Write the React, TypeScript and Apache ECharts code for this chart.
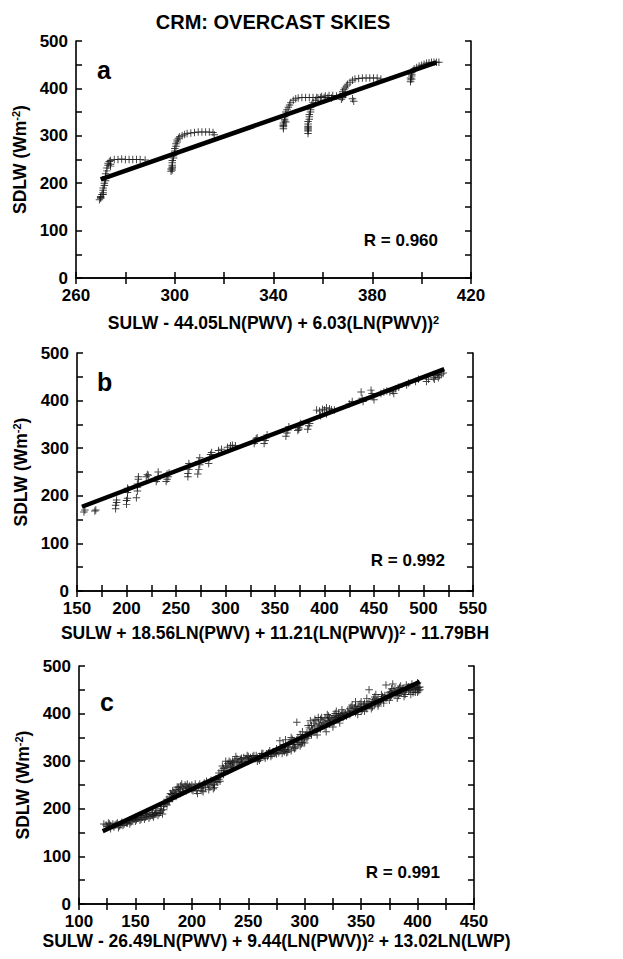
import React, { useEffect, useRef } from "react";
import * as echarts from "echarts";

const TITLE = "CRM: OVERCAST SKIES";
const Y_NAME = "SDLW (Wm{sup|-2})";
const X_NAMES = [
  "SULW - 44.05LN(PWV) + 6.03(LN(PWV)){sup|2}",
  "SULW + 18.56LN(PWV) + 11.21(LN(PWV)){sup|2} - 11.79BH",
  "SULW - 26.49LN(PWV) + 9.44(LN(PWV)){sup|2} + 13.02LN(LWP)",
];
const PANEL_LETTERS = ["a", "b", "c"];
const R_LABELS = ["R = 0.960", "R = 0.992", "R = 0.991"];

// x-axis ranges: [min, max, tick step, label step]
const X_RANGES = [
  [260, 420, 20, 40],
  [150, 550, 25, 50],
  [100, 450, 25, 50],
];
const Y_RANGE = [0, 500, 50, 100];

const fitA = [[270, 208], [406, 455]];
const fitB = [[155, 177], [521, 466]];
const fitC = [[121, 153], [402, 467]];

const scatterA = [
  [269.5,165],[270,168],[270,172],[270.5,176],[271,180],[271,185],[271,190],[271.5,195],[271.5,200],[272,205],
  [272,210],[272,214],[272,220],[272.5,226],[272.5,232],[273,238],[273,242],[273.5,246],[271,176],[270,170],
  [274,248],[275.5,250],[277,250],[278.5,251],[280,250],[281.5,250],[283,250],[284.5,250],[286,250],[288,249],
  [274,240],[274,236],
  [298.5,225],[298.5,230],[299,234],[299,238],[299,243],[299,248],[299.5,253],[299.5,258],[300,263],[300,268],
  [300,273],[300.5,278],[300.5,283],[301,287],[301,291],[301.5,295],[302,298],[299,228],[299,232],
  [303,300],[304,303],[305,305],[306.5,306],[308,307],[309.5,308],[311,308],[312.5,308],[314,308],[315.5,307],[316,302],
  [344,315],[344,319],[344,323],[344,327],[344.5,331],[344.5,335],[344.5,340],[345,345],[345,350],[345.5,355],
  [346,360],[346.5,365],[347,370],[348,375],[344,321],[345,329],
  [349,378],[350,380],[351.5,381],[353,381],[354.5,381],[356,381],[357.5,381],[359,381],[360.5,381],[362,381],[363.5,380],
  [354,305],[354,310],[354,315],[354,320],[354,325],[354,330],[354.5,335],[354.5,340],[354.5,345],[355,350],
  [355,355],[355,360],[355.5,365],[356,370],[357,375],[354,312],[354,318],
  [358,380],[359.5,383],[361,384],[362.5,385],[364,385],[365.5,384],[367,383],[372,378],[372.5,373],
  [367.5,377],[368,381],[368,385],[368,389],[368,393],[368.5,397],[369,401],[369.5,405],[370,409],[371,413],
  [372,417],[368,383],[369,387],
  [373,420],[374.5,421],[376,422],[377.5,422],[379,422],[380.5,422],[382,422],[383.5,420],
  [395.5,414],[395.5,418],[395.5,422],[396,426],[396,430],[396,434],[396.5,438],[397,441],[398,444],[399,447],
  [400,449],[396,420],
  [401,451],[402,453],[403,454],[404,455],[405,455],[406,455],[407,455],
];

const scatterB = [
  [157,166],[158,170],[168,168],[169,170],
  [189,173],[189,180],[190,186],[190,191],
  [200,182],[200,190],[201,195],[201,207],[202,213],[201,216],
  [210,196],[211,210],[211,218],[211,225],[212,235],[212,240],
  [220,240],[221,245],[222,243],
  [230,230],[231,235],[232,240],[232,250],
  [240,230],[241,235],[242,240],[241,246],[243,248],
  [262,240],[262,247],[263,255],[264,262],[263,268],
  [272,246],[273,255],[274,265],[273,272],[274,280],
  [283,268],[284,280],[285,287],[286,291],
  [293,295],[296,298],
  [302,302],[305,305],[307,306],[310,305],
  [329,310],[330,315],[331,320],[332,322],
  [339,310],[340,316],[341,322],[342,328],
  [361,325],[362,332],[363,338],[364,345],
  [373,337],[374,343],[375,348],[376,352],[374,340],
  [383,340],[384,347],[385,352],
  [392,380],[395,378],[398,382],[400,380],[402,385],[405,383],[407,381],[410,380],[402,372],[396,368],
  [425,393],[428,398],
  [437,418],[438,405],[439,398],
  [447,422],[448,415],[449,408],[450,402],
  [457,415],[460,418],[463,420],[466,418],[469,420],[472,425],[475,428],[470,415],
  [483,433],[485,437],
  [492,440],[495,445],
  [503,440],[505,445],
  [510,448],[512,452],[514,455],[516,452],[518,456],[520,458],[511,445],[515,448],
];

const scatterC = [
  [122,168],[124,166],[126,170],[128,165],[130,168],[132,166],[134,170],[136,164],[138,172],[140,168],[135,160],[128,158],
  [142,170],[144,175],[146,172],[148,178],[150,174],[152,180],[154,176],[156,182],[158,178],[160,185],[162,180],
  [164,188],[166,183],[168,190],[170,186],[172,193],[174,189],[165,192],[160,190],[155,186],[150,182],[168,196],[172,200],
  [175,205],[177,212],[178,220],[180,225],[182,230],[184,235],[186,240],[188,244],[190,248],[192,245],[194,250],
  [196,252],[198,248],[200,250],[180,215],[185,228],[190,232],[195,238],[200,240],[183,222],[188,236],[197,243],[178,208],
  [202,245],[204,238],[206,248],[208,242],[210,250],[212,244],[214,252],[216,246],[218,255],[220,250],[222,258],
  [224,262],[205,232],[210,236],[215,240],[220,245],[203,252],[213,258],
  [226,280],[228,285],[230,290],[232,295],[234,298],[236,300],[238,302],[240,305],[242,300],[244,306],[246,308],
  [248,305],[250,310],[252,308],[254,310],[228,272],[232,280],[236,288],[240,292],[245,296],[250,300],[224,275],[230,300],
  [256,305],[258,308],[260,310],[262,312],[264,310],[266,315],[268,318],[270,316],[272,320],[274,318],[276,322],
  [278,325],[260,302],[265,306],[270,310],[275,315],[262,316],[280,328],
  [280,316],[282,320],[284,318],[286,325],[288,322],[290,330],[292,328],[294,335],[296,332],[298,340],[300,338],
  [282,330],[286,336],[290,342],[294,348],[296,356],[298,362],[283,345],[293,382],[278,343],[288,350],[300,350],
  [302,360],[304,370],[306,375],[308,380],[310,385],[312,378],[314,388],[316,382],[318,390],[320,386],[322,392],
  [324,388],[326,396],[328,392],[330,400],[332,396],[334,402],[302,348],[306,355],[310,362],[314,368],[318,372],
  [322,378],[326,382],[330,388],[334,392],[305,385],[312,392],[320,398],[328,405],
  [336,400],[338,405],[340,410],[342,406],[344,412],[346,408],[348,415],[350,412],[352,418],[354,414],[356,420],
  [358,418],[360,425],[362,420],[364,428],[366,424],[368,430],[370,428],[340,398],[345,402],[350,405],[355,410],
  [360,414],[365,420],[370,422],[342,418],[350,425],[357,450],[362,435],[368,440],
  [372,432],[374,438],[376,435],[378,442],[380,440],[382,445],[384,442],[386,448],[388,445],[390,450],[392,448],
  [394,452],[396,450],[398,455],[400,452],[402,456],[372,460],[378,462],[385,458],[390,460],[395,462],[400,465],
  [375,428],[382,432],[388,436],[394,440],[398,445],[401,448],[380,452],[392,456],
  // denser fill of the band
  [125,163],[127,168],[131,162],[133,168],[137,167],[139,165],[141,172],[143,170],[145,176],[147,175],[149,179],
  [151,177],[153,183],[157,185],[159,182],[161,188],[163,184],[167,188],[169,192],[171,190],[173,197],[176,210],
  [179,216],[145,168],[155,178],[165,186],[175,198],
  [181,232],[183,238],[185,232],[187,246],[189,240],[191,252],[193,242],[195,247],[199,244],[201,238],[186,226],[192,236],
  [207,252],[209,246],[211,254],[215,250],[217,260],[219,252],[221,262],[223,256],[225,268],[209,238],[219,242],[225,258],
  [227,290],[229,280],[231,286],[233,300],[235,292],[237,296],[239,310],[241,298],[243,304],[247,300],[249,312],
  [251,304],[253,305],[255,312],[234,288],[244,296],
  [257,312],[259,305],[261,306],[263,316],[265,312],[267,310],[269,322],[271,313],[273,316],[275,326],[277,318],
  [279,322],[258,300],[268,314],
  [281,322],[283,325],[285,330],[287,340],[289,335],[291,338],[293,345],[295,340],[297,350],[299,345],[285,320],
  [291,326],[297,336],[281,335],[289,346],
  [301,355],[303,352],[305,362],[307,366],[309,372],[311,368],[313,376],[315,374],[317,380],[319,378],[321,384],
  [323,382],[325,390],[327,386],[329,394],[331,392],[333,398],[335,396],[303,375],[309,388],[315,392],[321,395],
  [327,400],[333,408],[311,355],[319,362],[325,372],[331,380],
  [337,395],[339,402],[341,414],[343,404],[345,416],[347,410],[349,420],[351,408],[353,422],[355,416],[357,425],
  [359,420],[361,430],[363,424],[365,432],[367,426],[369,436],[347,398],[353,405],[359,410],[365,416],[345,425],
  [355,432],[363,440],
  [371,438],[373,434],[375,444],[377,438],[379,448],[381,442],[383,450],[385,446],[387,452],[389,448],[391,455],
  [393,450],[395,456],[397,452],[399,458],[401,455],[377,452],[384,455],[389,440],[396,444],[400,445],[402,450],
  [376,446],[383,438],
];

const SCATTERS = [scatterA, scatterB, scatterC];
const FITS = [fitA, fitB, fitC];

const FONT = '"Liberation Sans", Arial, Helvetica, sans-serif';
const PLUS = "path://M0,4.35H10V5.65H0Z M4.35,0H5.65V10H4.35Z";

// layout (pixels)
const GRIDS = [
  { left: 76, top: 41, width: 395, height: 237 },
  { left: 77, top: 353, width: 396, height: 238 },
  { left: 79, top: 666, width: 395, height: 238 },
];
const X_NAME_GAPS = [36, 33, 28];
const LETTER_POS = [[97, 70], [97, 382], [100, 702]];
const R_POS = [[438, 240], [445, 560], [440, 872]];

function buildOption() {
  const lineStyle = { color: "#000", width: 1.6 };
  const tickStyle = { show: true, inside: true, length: 6, lineStyle: { color: "#000", width: 1.5 } };
  const labelBase = { color: "#000", fontSize: 17, fontWeight: "bold", fontFamily: FONT };
  const nameStyle = {
    color: "#000",
    fontSize: 17.5,
    fontWeight: "bold",
    fontFamily: FONT,
    rich: {
      sup: { fontSize: 11, fontWeight: "bold", fontFamily: FONT, color: "#000", verticalAlign: "top", lineHeight: 12 },
    },
  };

  const xAxis: any[] = [];
  const yAxis: any[] = [];
  const series: any[] = [];
  const graphic: any[] = [];

  GRIDS.forEach((g, i) => {
    const [xmin, xmax, xstep, xlab] = X_RANGES[i];
    const [ymin, ymax, ystep, ylab] = Y_RANGE;
    xAxis.push({
      type: "value", gridIndex: i, position: "bottom", min: xmin, max: xmax, interval: xstep,
      axisLine: { show: true, lineStyle }, axisTick: tickStyle, splitLine: { show: false },
      axisLabel: { ...labelBase, margin: 9, formatter: (v: number) => ((v - xmin) % xlab === 0 ? String(v) : "") },
      name: X_NAMES[i], nameLocation: "middle", nameGap: X_NAME_GAPS[i], nameTextStyle: nameStyle,
    });
    xAxis.push({
      type: "value", gridIndex: i, position: "top", min: xmin, max: xmax, interval: xstep,
      axisLine: { show: true, lineStyle }, axisTick: tickStyle, splitLine: { show: false },
      axisLabel: { show: false },
    });
    yAxis.push({
      type: "value", gridIndex: i, position: "left", min: ymin, max: ymax, interval: ystep,
      axisLine: { show: true, lineStyle }, axisTick: tickStyle, splitLine: { show: false },
      axisLabel: { ...labelBase, margin: 8, formatter: (v: number) => (v % ylab === 0 ? String(v) : "") },
      name: Y_NAME, nameLocation: "middle", nameRotate: 90, nameGap: 45, nameTextStyle: nameStyle,
    });
    yAxis.push({
      type: "value", gridIndex: i, position: "right", min: ymin, max: ymax, interval: ystep,
      axisLine: { show: true, lineStyle }, axisTick: tickStyle, splitLine: { show: false },
      axisLabel: { show: false },
    });
    series.push({
      type: "scatter", xAxisIndex: i * 2, yAxisIndex: i * 2, data: SCATTERS[i],
      symbol: PLUS, symbolSize: 7.5, itemStyle: { color: "#161616" }, z: 2,
    });
    series.push({
      type: "line", xAxisIndex: i * 2, yAxisIndex: i * 2, data: FITS[i],
      showSymbol: false, symbol: "none", lineStyle: { color: "#000", width: 4.5 }, z: 3,
    });
    graphic.push({
      type: "text", x: LETTER_POS[i][0], y: LETTER_POS[i][1],
      style: { text: PANEL_LETTERS[i], fill: "#000", font: `bold 25px ${FONT}`,
        textAlign: "left", textVerticalAlign: "middle", align: "left", verticalAlign: "middle" },
    });
    graphic.push({
      type: "text", x: R_POS[i][0], y: R_POS[i][1],
      style: { text: R_LABELS[i], fill: "#000", font: `bold 17px ${FONT}`,
        textAlign: "right", textVerticalAlign: "middle", align: "right", verticalAlign: "middle" },
    });
  });

  graphic.push({
    type: "text", x: 273, y: 22,
    style: { text: TITLE, fill: "#000", font: `bold 20px ${FONT}`,
      textAlign: "center", textVerticalAlign: "middle", align: "center", verticalAlign: "middle" },
  });

  return {
    animation: false,
    backgroundColor: "#fff",
    grid: GRIDS.map((g) => ({ ...g, containLabel: false })),
    xAxis,
    yAxis,
    series,
    graphic,
  };
}

export default function App() {
  const ref = useRef<HTMLDivElement>(null);
  useEffect(() => {
    if (!ref.current) return;
    const chart = echarts.init(ref.current, undefined, { renderer: "svg" });
    chart.setOption(buildOption() as any);
    return () => chart.dispose();
  }, []);
  return (
    <div
      ref={ref}
      style={{ position: "absolute", left: 0, top: 0, width: 623, height: 959, background: "#fff" }}
    />
  );
}
